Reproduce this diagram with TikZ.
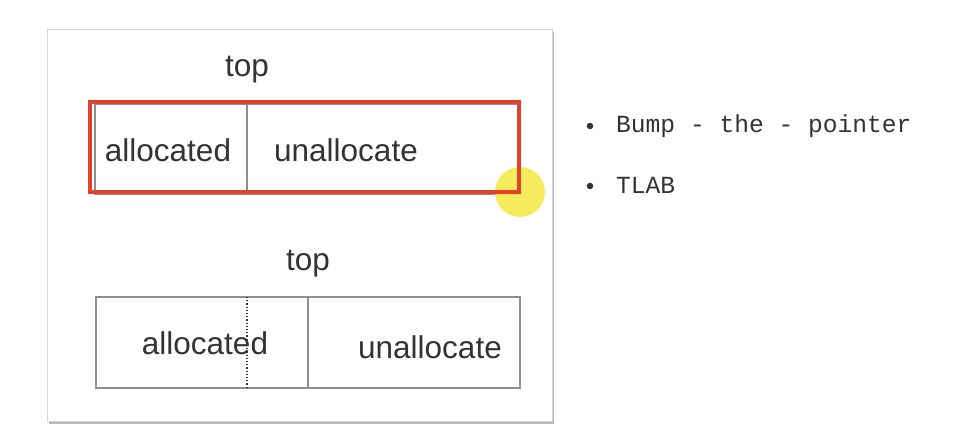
\documentclass[tikz,border=0pt]{standalone}
\usepackage{fontspec}
\setmainfont{Liberation Sans}
\newfontfamily\monofont{Liberation Mono}
\usetikzlibrary{shadows}
\definecolor{boxgray}{HTML}{8E8E8E}
\definecolor{framegray}{HTML}{D6D6D6}
\definecolor{textgray}{HTML}{333333}
\definecolor{selred}{HTML}{E2412B}
\definecolor{cursoryellow}{HTML}{F6E94C}
\begin{document}
\begin{tikzpicture}[x=1pt, y=-1pt,
		cell/.style={draw=boxgray, line width=1.2pt, inner sep=0},
		word/.style={font=\fontsize{31.5}{38}\selectfont, text=textgray, anchor=base, inner sep=0},
		item/.style={font=\monofont\fontsize{24.6}{30}\selectfont, text=textgray, anchor=base west, inner sep=0},
		dot/.style={circle, fill=textgray, minimum size=6.5pt, inner sep=0}]
			\useasboundingbox (0,0) rectangle (976,446);
			
			\node[draw=framegray, fill=white, line width=1pt, minimum width=505, minimum height=391,
				drop shadow={shadow xshift=1.5pt, shadow yshift=-2.5pt, opacity=.55}] (slide) at (299.5,225.5) {};
			
			\node[word] (top1)  at  (247, 77){top};
			\node[cell, minimum width=152, minimum height=90] (alloc1)  at  (171, 149){};
			\node[cell, minimum width=273, minimum height=90] (free1)  at  (383.5, 149){};
			\node[word] (alloctext1)  at  (168, 162){allocated};
			\node[word] (freetext1)  at  (346, 162){unallocate};
			
			\node[circle, fill=cursoryellow, opacity=.9, minimum size=50, inner sep=0] (cursor)  at  (520, 192){};
			\node[draw=selred, line width=3.5pt, minimum width=429, minimum height=90, inner sep=0] (select)  at  (304.5, 147){};
			
			\node[word] (top2)  at  (308, 270){top};
			\node[cell, minimum width=212, minimum height=91] (alloc2)  at  (202, 342.5){};
			\node[cell, minimum width=212, minimum height=91] (free2)  at  (414, 342.5){};
			\node[word] (alloctext2)  at  (205, 354){allocated};
			\node[word] (freetext2)  at  (430, 358){unallocate};
			
			\coordinate (old1)  at  (247, 297);
			\coordinate (old2)  at  (247, 388);
			\draw[textgray, line width=1.2pt, dotted] (old1) -- (old2);
			
			\node[dot] (dot1)  at  (590, 126){};
			\node[dot] (dot2)  at  (590, 186){};
			\node[item] (item1)  at  (616, 133){Bump - the - pointer};
			\node[item] (item2)  at  (616, 194){TLAB};
		\end{tikzpicture}
\end{document}
